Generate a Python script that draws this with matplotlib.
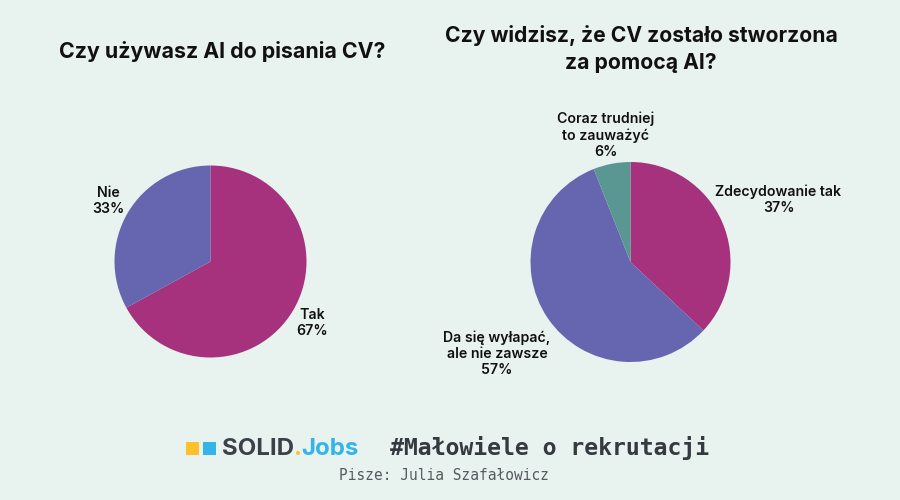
import matplotlib
matplotlib.use('Agg')
import matplotlib.pyplot as plt
from matplotlib.patches import Rectangle

# data
left_labels = ['Tak', 'Nie']
left_values = [67, 33]
right_labels = ['Zdecydowanie tak', 'Da się wyłapać,\nale nie zawsze', 'Coraz trudniej\nto zauważyć']
right_values = [37, 57, 6]

magenta = '#A6317D'
purple = '#6665AF'
teal = '#5A9792'
bg = '#E8F2EE'
W, H = 900, 500

fig = plt.figure(figsize=(9, 5), dpi=100, facecolor=bg)
plt.rcParams['font.family'] = ['Inter', 'Open Sans', 'DejaVu Sans']


def px(x, y):
    return x / W, 1 - y / H


def put(x, y, s, **kw):
    kw.setdefault('ha', 'center')
    kw.setdefault('va', 'center')
    kw.setdefault('color', '#111111')
    fig.text(*px(x, y), s, **kw)


def draw_pie(cx, cy, r, values, colors):
    ax = fig.add_axes([(cx - r) / W, 1 - (cy + r) / H, 2 * r / W, 2 * r / H])
    ax.pie(values, colors=colors, startangle=90, counterclock=False, radius=1)
    ax.set_xlim(-1, 1)
    ax.set_ylim(-1, 1)
    ax.set_aspect('equal')
    ax.axis('off')


draw_pie(210.5, 261.5, 96, left_values, [magenta, purple])
draw_pie(630.5, 262, 100, right_values, [magenta, purple, teal])

# titles
put(222, 51, 'Czy używasz AI do pisania CV?', fontsize=15.35, fontweight='bold')
put(641, 35, 'Czy widzisz, że CV zostało stworzona', fontsize=15.2, fontweight='bold')
put(641, 63, 'za pomocą AI?', fontsize=15.2, fontweight='bold')

# slice labels
lab = dict(fontsize=10.2, fontweight='semibold', linespacing=1.2)
put(108, 201, f'{left_labels[1]}\n{left_values[1]}%', **lab)
put(312.5, 323, f'{left_labels[0]}\n{left_values[0]}%', **lab)
put(778.5, 199.5, f'{right_labels[0]}\n{right_values[0]}%', **lab)
put(497, 354, f'{right_labels[1]}\n{right_values[1]}%', **lab)
put(605.5, 135, f'{right_labels[2]}\n{right_values[2]}%', **lab)

# footer logo
canvas = fig.add_axes([0, 0, 1, 1], zorder=-1)
canvas.set_xlim(0, W)
canvas.set_ylim(H, 0)
canvas.axis('off')
canvas.add_patch(Rectangle((185.5, 442), 13, 13, color='#FFC02E', lw=0))
canvas.add_patch(Rectangle((202.5, 442), 13.5, 13, color='#33B5E9', lw=0))
put(222, 449, 'SOLID', ha='left', fontsize=17.3, fontweight='bold', color='#3C4148')
put(293.5, 449, '.', ha='left', fontsize=17.3, fontweight='bold', color='#FFC02E')
put(301, 449, 'Jobs', ha='left', fontsize=17.3, fontweight='bold', color='#33B5E9')

mono = ['DejaVu Sans Mono', 'Liberation Mono']
put(550, 448, '#Małowiele o rekrutacji', fontsize=16.7, fontweight='bold', color='#343A3F', family=mono)
put(444, 475, 'Pisze: Julia Szafałowicz', fontsize=10.45, color='#555A5E', family=mono)

fig.savefig('out.png', dpi=100, facecolor=bg)
